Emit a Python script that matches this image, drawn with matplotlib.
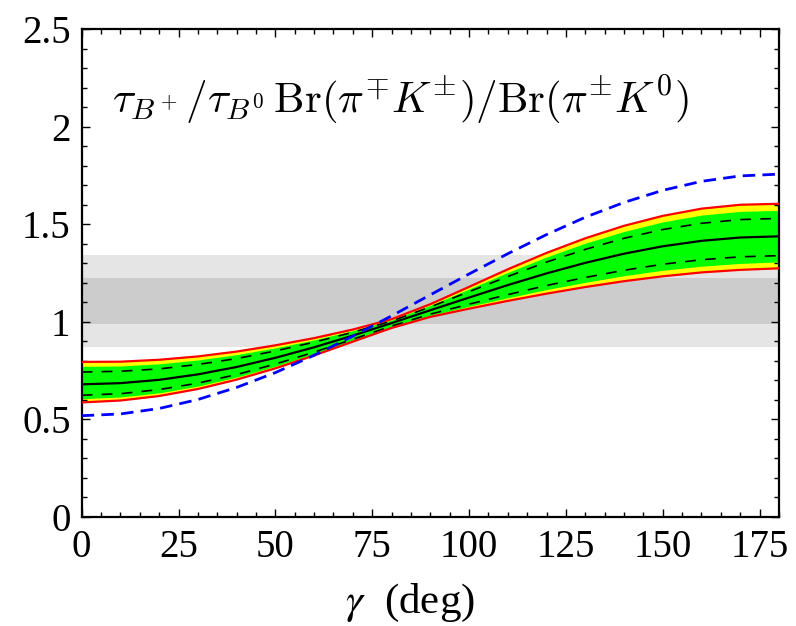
import numpy as np
import matplotlib
matplotlib.use("Agg")
import matplotlib.pyplot as plt
from matplotlib.ticker import MultipleLocator, FixedLocator

plt.rcParams['font.family'] = ['Liberation Serif', 'DejaVu Serif']

# gamma grid (deg) and curves
gamma = [0, 10, 20, 30, 40, 50, 60, 70, 80, 90, 100, 110, 120, 130, 140, 150, 160, 170, 180]

central = [0.679, 0.685, 0.702, 0.730, 0.768, 0.815, 0.869, 0.929, 0.993, 1.059,
           1.124, 1.188, 1.248, 1.302, 1.349, 1.387, 1.415, 1.432, 1.438]
red_top = [0.794, 0.795, 0.805, 0.822, 0.847, 0.879, 0.916, 0.960, 1.013, 1.090,
           1.179, 1.269, 1.353, 1.428, 1.492, 1.543, 1.580, 1.600, 1.605]
red_bot = [0.586, 0.596, 0.619, 0.655, 0.703, 0.761, 0.827, 0.898, 0.968, 1.025,
           1.067, 1.107, 1.144, 1.178, 1.208, 1.233, 1.253, 1.266, 1.274]
green_top = [0.771, 0.773, 0.784, 0.804, 0.831, 0.866, 0.907, 0.954, 1.009, 1.084,
             1.168, 1.253, 1.332, 1.403, 1.463, 1.512, 1.547, 1.566, 1.571]
green_bot = [0.605, 0.614, 0.635, 0.670, 0.716, 0.772, 0.835, 0.904, 0.973, 1.032,
             1.079, 1.123, 1.165, 1.202, 1.236, 1.264, 1.285, 1.299, 1.307]
dash_top = [0.742, 0.746, 0.758, 0.781, 0.811, 0.850, 0.895, 0.946, 1.004, 1.076,
            1.154, 1.232, 1.306, 1.371, 1.428, 1.473, 1.505, 1.524, 1.530]
dash_bot = [0.623, 0.631, 0.652, 0.685, 0.729, 0.783, 0.844, 0.910, 0.978, 1.039,
            1.090, 1.139, 1.186, 1.227, 1.264, 1.295, 1.318, 1.333, 1.339]
blue = [0.518, 0.527, 0.555, 0.601, 0.663, 0.739, 0.828, 0.926, 1.030, 1.138,
        1.245, 1.349, 1.447, 1.536, 1.612, 1.674, 1.720, 1.748, 1.757]

# experimental bands
band_outer = (0.872, 1.341)
band_inner = (0.990, 1.226)

xticks = [0, 25, 50, 75, 100, 125, 150, 175]
yticks = [0, 0.5, 1, 1.5, 2, 2.5]
ytick_labels = ['0', '0.5', '1', '1.5', '2', '2.5']

fig = plt.figure(figsize=(7.96, 6.26), dpi=100)
ax = fig.add_axes([0.1026, 0.1746, 0.876, 0.7786])

ax.axhspan(band_outer[0], band_outer[1], color='#e5e5e5', lw=0, zorder=0)
ax.axhspan(band_inner[0], band_inner[1], color='#cccccc', lw=0, zorder=0.5)

ax.fill_between(gamma, red_bot, red_top, color='#ffff00', lw=0, zorder=1)
ax.fill_between(gamma, green_bot, green_top, color='#00ff00', lw=0, zorder=2)
ax.plot(gamma, dash_top, color='k', lw=1.2, dashes=(6.5, 5.5), zorder=3)
ax.plot(gamma, dash_bot, color='k', lw=1.2, dashes=(6.5, 5.5), zorder=3)
ax.plot(gamma, central, color='k', lw=1.6, zorder=3)
ax.plot(gamma, red_top, color='#ff0000', lw=1.6, zorder=4)
ax.plot(gamma, red_bot, color='#ff0000', lw=1.6, zorder=4)
ax.plot(gamma, blue, color='#0000ff', lw=2.0, dashes=(4.5, 2.6), zorder=5)

ax.set_xlim(0, 180)
ax.set_ylim(0, 2.5)
ax.xaxis.set_major_locator(FixedLocator(xticks))
ax.xaxis.set_minor_locator(MultipleLocator(5))
ax.yaxis.set_major_locator(FixedLocator(yticks))
ax.set_yticklabels(ytick_labels)
ax.yaxis.set_minor_locator(MultipleLocator(0.1))
ax.tick_params(which='both', direction='in', top=True, right=True, labelsize=28, width=1.0)
ax.tick_params(which='major', length=6)
ax.tick_params(axis='x', which='major', pad=9)
ax.tick_params(axis='y', which='major', pad=8)
ax.tick_params(which='minor', length=3.5)
for s in ax.spines.values():
    s.set_linewidth(1.6)

ax.set_xlabel(r'$\gamma$  (deg)', fontsize=31, math_fontfamily='stix')
ax.xaxis.set_label_coords(0.471, -0.133)

ax.text(0.457, 0.855, r'$\tau_{B^+}/\tau_{B^0}\,\mathrm{Br}(\pi^{\mp}K^{\pm})/\mathrm{Br}(\pi^{\pm}K^0)$',
        transform=ax.transAxes, ha='center', va='center', fontsize=31, math_fontfamily='cm')

fig.savefig('out.png', dpi=100)
